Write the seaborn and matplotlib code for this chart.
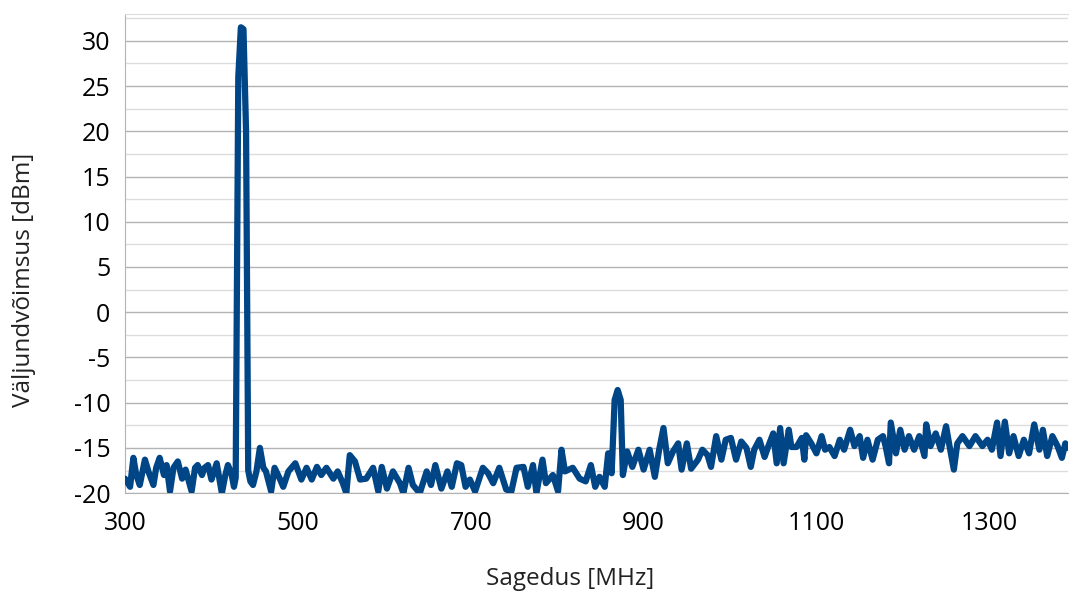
import numpy as np
import pandas as pd
import matplotlib
matplotlib.use("Agg")
import matplotlib.pyplot as plt
from matplotlib.ticker import MultipleLocator
import seaborn as sns

# values (frequency in MHz, power in dBm)
freq_mhz = [
    300, 305.8, 309.6, 313, 317, 323, 327, 332.8, 336, 340, 345, 348, 352, 356,
    361, 366, 370, 377, 381, 384, 389, 392, 396, 400, 403, 406, 412, 416, 419,
    423, 426, 428, 431, 434, 437, 440, 442.5, 445, 448, 452, 456, 460,
    463, 469, 473, 479, 483, 489, 497, 504, 510, 516, 522, 527, 533, 541, 546,
    552, 556, 560, 566, 572, 579, 587, 593, 597, 603, 610, 618, 622, 628, 633,
    641, 649, 654, 659, 666, 673, 678, 684, 689, 694, 699, 705, 714, 720, 726,
    733, 741, 747, 753, 761, 766, 772, 776, 783, 787, 795, 801, 805, 809, 818,
    826, 833, 839, 844, 849, 855, 859, 863, 866.5, 870, 873.5, 876, 881, 887,
    894, 900, 907, 913, 918, 923, 928, 934, 940, 944, 950, 955, 963, 968, 974,
    978, 984, 990, 995, 1001, 1007, 1013, 1019, 1024, 1028, 1034, 1040, 1044,
    1050, 1054, 1058, 1062, 1068, 1071, 1077, 1083, 1086, 1088, 1094, 1100,
    1106, 1110, 1115, 1121, 1127, 1132, 1139, 1144, 1150, 1154, 1159, 1165,
    1171, 1177, 1180, 1184, 1186, 1192, 1197, 1202, 1207, 1213, 1219, 1225,
    1227, 1232, 1238, 1244, 1250, 1254, 1259, 1263, 1269, 1277, 1284, 1292,
    1298, 1303, 1309, 1313, 1318, 1323, 1328, 1334, 1340, 1346, 1352, 1358,
    1362, 1367, 1373, 1379, 1384, 1388, 1391,
]
power_dbm = [
    -18.4, -19.3, -16.1, -18.0, -19.1, -16.3, -17.6, -19.1, -17.2, -16.1, -18.0,
    -16.9, -19.8, -17.2, -16.5, -18.4, -17.4, -19.8, -17.2, -16.9, -18.0, -17.2,
    -16.9, -18.5, -17.6, -16.7, -20.0, -18.0, -16.9, -17.8, -19.3, -18.3, 26.0,
    31.5, 31.3, 20.0, -17.5, -18.7, -19.1, -17.6, -15.0, -17.2, -17.6, -19.8,
    -17.2, -18.4, -19.3, -17.6, -16.7, -18.5, -17.2, -18.5, -17.1, -18.0, -17.2,
    -18.4, -17.6, -18.9, -20.0, -15.8, -16.5, -18.5, -18.4, -17.2, -19.8, -17.1,
    -19.5, -17.6, -18.9, -20.0, -17.2, -19.1, -20.0, -17.6, -19.1, -16.9, -19.5,
    -17.6, -19.3, -16.7, -16.9, -19.3, -18.5, -19.8, -17.2, -17.8, -18.9, -17.2,
    -19.6, -19.8, -17.2, -17.1, -19.3, -16.9, -20.0, -16.3, -18.9, -18.0, -19.8,
    -15.2, -17.6, -17.2, -18.4, -18.7, -16.9, -19.3, -18.2, -19.3, -15.6, -17.8,
    -9.7, -8.6, -9.7, -18.0, -15.4, -17.1, -15.2, -17.4, -15.2, -18.2, -15.2,
    -12.8, -16.7, -15.4, -14.5, -17.4, -14.5, -17.3, -16.3, -15.2, -15.8, -17.1,
    -13.7, -16.3, -14.1, -13.9, -16.3, -14.3, -15.0, -17.1, -15.2, -14.1, -16.0,
    -14.9, -13.4, -16.7, -12.8, -16.7, -13.0, -14.9, -14.9, -13.9, -16.3, -13.6,
    -14.5, -15.6, -13.7, -15.2, -14.9, -15.9, -14.1, -15.2, -13.0, -14.8, -13.7,
    -16.1, -14.1, -16.3, -14.1, -13.7, -14.8, -16.7, -12.2, -15.6, -13.0, -15.2,
    -13.7, -15.2, -13.7, -15.9, -12.4, -14.8, -13.4, -15.2, -12.6, -14.8, -17.4,
    -14.5, -13.7, -14.8, -13.7, -14.8, -14.1, -15.2, -12.2, -15.9, -12.1, -15.6,
    -13.7, -15.9, -14.1, -15.6, -12.4, -15.2, -13.0, -15.9, -13.7, -14.8, -16.1,
    -14.5, -15.0,
]

df = pd.DataFrame({"freq": freq_mhz, "power": power_dbm})

sns.set_style("white")
plt.rcParams["font.family"] = ["Open Sans", "DejaVu Sans"]
plt.rcParams["axes.unicode_minus"] = False

fig = plt.figure(figsize=(10.69, 5.97), dpi=100)
ax = fig.add_axes([0.117, 0.174, 0.882, 0.803])

ax.yaxis.set_major_locator(MultipleLocator(5))
ax.yaxis.set_minor_locator(MultipleLocator(2.5))
ax.grid(axis="y", which="major", color="#b3b3b3", linewidth=1.0, zorder=0)
ax.grid(axis="y", which="minor", color="#dddddd", linewidth=1.0, zorder=0)
ax.set_axisbelow(True)

sns.lineplot(data=df, x="freq", y="power", ax=ax, color="#004586",
             linewidth=4.5, zorder=3)

ax.set_xlim(300, 1391)
ax.set_ylim(-20, 33)
ax.set_xticks([300, 500, 700, 900, 1100, 1300])

for side in ["left", "bottom"]:
    ax.spines[side].set_color("#b3b3b3")
ax.spines["top"].set_color("#dddddd")
ax.spines["right"].set_visible(False)

ax.tick_params(axis="both", which="major", direction="out", length=7,
               width=1, color="#b3b3b3", labelsize=18, labelcolor="black")
ax.tick_params(axis="y", which="minor", length=0)
ax.tick_params(axis="x", pad=6)

ax.set_xlabel("Sagedus [MHz]", fontsize=17.5, color="#222222")
ax.set_ylabel("Väljundvõimsus [dBm]", fontsize=17.5, color="#222222")
ax.xaxis.set_label_coords(0.4725, -0.155)
ax.yaxis.set_label_coords(-0.095, 0.445)

fig.savefig("out.png", dpi=100)
plt.close(fig)
